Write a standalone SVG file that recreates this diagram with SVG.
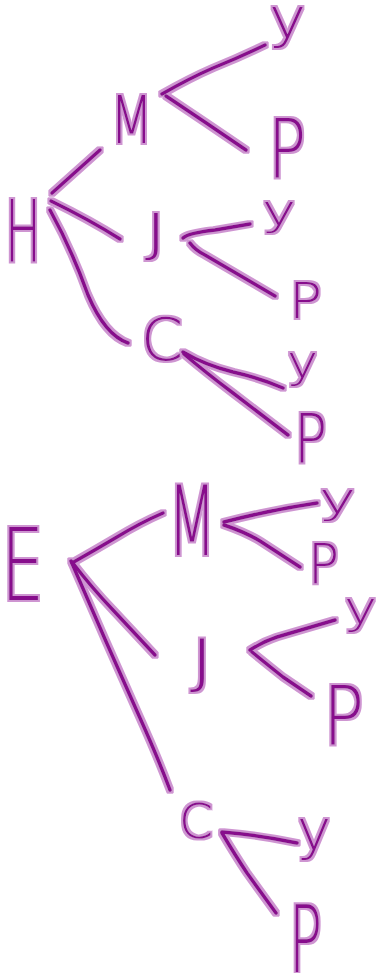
<svg xmlns="http://www.w3.org/2000/svg" width="377" height="973" viewBox="0 0 377 973">
<defs>
<filter id="halo" x="0" y="0" width="377" height="973" filterUnits="userSpaceOnUse">
<feMorphology in="SourceAlpha" operator="dilate" radius="2" result="d"/>
<feFlood flood-color="#c27ac6" flood-opacity="0.8"/>
<feComposite in2="d" operator="in" result="h"/>
<feMerge><feMergeNode in="h"/><feMergeNode in="SourceGraphic"/></feMerge>
</filter>
<style>
.e{fill:none;stroke:#870a8c;stroke-width:3.5;stroke-linecap:round;stroke-linejoin:round}
text{font-family:"DejaVu Sans Light","DejaVu Sans",sans-serif;font-weight:200;fill:#870a8c}
</style>
</defs>
<rect width="377" height="973" fill="#ffffff"/>
<g filter="url(#halo)">
<g id="connectors">
<path class="e" d="M52,193 L100,150"/>
<path class="e" d="M51,201 Q90,220 120,239"/>
<path class="e" d="M50,210 Q72,250 88,295 Q105,335 128,343"/>
<path class="e" d="M162,94 Q190,78 213,68 Q240,57 265,45"/>
<path class="e" d="M166,96 Q205,122 246,150"/>
<path class="e" d="M183,238 Q188,233 215,230 L250,224"/>
<path class="e" d="M190,243 Q195,250 205,255 L275,296"/>
<path class="e" d="M183,352 Q205,365 233,372 Q260,378 283,388"/>
<path class="e" d="M184,354 Q205,372 233,393 L288,435"/>
<path class="e" d="M72,563 Q95,550 117,537 Q140,523 163,513"/>
<path class="e" d="M72,562 Q92,588 113,610 L155,655"/>
<path class="e" d="M71,561 Q105,640 140,718 Q158,758 170,790"/>
<path class="e" d="M224,522 Q270,510 317,503"/>
<path class="e" d="M224,525 Q245,532 260,541 L300,567"/>
<path class="e" d="M250,650 Q262,642 277,637 L335,620"/>
<path class="e" d="M252,652 Q268,665 283,677 L311,696"/>
<path class="e" d="M222,832 Q260,835 297,843"/>
<path class="e" d="M222,833 Q235,855 247,873 L276,913"/>
</g>
<g id="H"><text x="5" y="262" font-size="85" textLength="36" lengthAdjust="spacingAndGlyphs">H</text></g>
<g id="H-M"><text x="110" y="143" font-size="66" textLength="43" lengthAdjust="spacingAndGlyphs">M</text></g>
<g id="H-M-y"><text x="269" y="37" font-size="55" textLength="37" lengthAdjust="spacingAndGlyphs">y</text></g>
<g id="H-M-P"><text x="268" y="178" font-size="82" textLength="38" lengthAdjust="spacingAndGlyphs">P</text></g>
<g id="H-J"><text x="145" y="251" font-size="52" textLength="22" lengthAdjust="spacingAndGlyphs">J</text></g>
<g id="H-J-y"><text x="262" y="225" font-size="42" textLength="34" lengthAdjust="spacingAndGlyphs">y</text></g>
<g id="H-J-P"><text x="289" y="318" font-size="49" textLength="33" lengthAdjust="spacingAndGlyphs">P</text></g>
<g id="H-C"><text x="141" y="360" font-size="58" textLength="42" lengthAdjust="spacingAndGlyphs">C</text></g>
<g id="H-C-y"><text x="287" y="377" font-size="45" textLength="31" lengthAdjust="spacingAndGlyphs">y</text></g>
<g id="H-C-P"><text x="294" y="462" font-size="67" textLength="33" lengthAdjust="spacingAndGlyphs">P</text></g>
<g id="E"><text x="1" y="600" font-size="100" textLength="43" lengthAdjust="spacingAndGlyphs">E</text></g>
<g id="E-M"><text x="168" y="555" font-size="96" textLength="48" lengthAdjust="spacingAndGlyphs">M</text></g>
<g id="E-M-y"><text x="319" y="513" font-size="42" textLength="37" lengthAdjust="spacingAndGlyphs">y</text></g>
<g id="E-M-P"><text x="308" y="583" font-size="55" textLength="31" lengthAdjust="spacingAndGlyphs">P</text></g>
<g id="E-J"><text x="190" y="682" font-size="58" textLength="24" lengthAdjust="spacingAndGlyphs">J</text></g>
<g id="E-J-y"><text x="344" y="623" font-size="45" textLength="33" lengthAdjust="spacingAndGlyphs">y</text></g>
<g id="E-J-P"><text x="323" y="745" font-size="82" textLength="41" lengthAdjust="spacingAndGlyphs">P</text></g>
<g id="E-C"><text x="179" y="838" font-size="48" textLength="34" lengthAdjust="spacingAndGlyphs">C</text></g>
<g id="E-C-y"><text x="297" y="849" font-size="56" textLength="34" lengthAdjust="spacingAndGlyphs">y</text></g>
<g id="E-C-P"><text x="289" y="972" font-size="92" textLength="33" lengthAdjust="spacingAndGlyphs">P</text></g>
</g>
</svg>
